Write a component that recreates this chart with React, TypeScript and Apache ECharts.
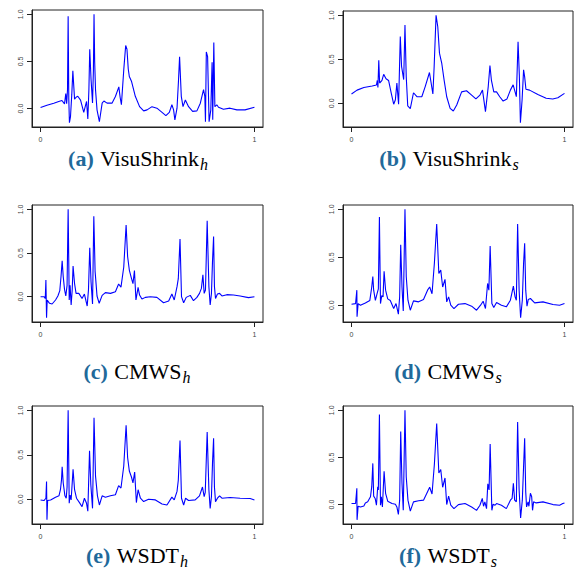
import React, { useEffect, useRef } from "react";
import * as echarts from "echarts";

// (a) VisuShrink_h
const visuShrinkH: [number, number][] = [
  [0, 0.011], [0.03, 0.035], [0.062, 0.057], [0.085, 0.075], [0.1, 0.085], [0.112, 0.05], [0.118, 0.16], [0.122, 0.05],
  [0.126, 0.2], [0.129, 0.98], [0.132, 0.1], [0.135, -0.15], [0.14, -0.085], [0.146, 0.15], [0.151, 0.4], [0.159, 0.1],
  [0.166, 0.12], [0.174, 0.13], [0.187, 0.09], [0.202, -0.04], [0.215, 0.075], [0.221, -0.11], [0.226, 0.2], [0.23, 0.63],
  [0.236, 0.31], [0.243, 0.06], [0.247, 0.4], [0.25, 1.0], [0.253, 0.5], [0.257, 0.2], [0.264, -0.014], [0.275, -0.14],
  [0.288, 0.057], [0.296, 0.08], [0.311, 0.057], [0.334, 0.057], [0.35, 0.128], [0.366, 0.23], [0.372, 0.12], [0.378, 0.04],
  [0.389, 0.41], [0.398, 0.67], [0.404, 0.63], [0.41, 0.42], [0.415, 0.34], [0.425, 0.29], [0.443, 0.13], [0.463, 0.02],
  [0.482, -0.025], [0.498, -0.014], [0.521, 0.02], [0.544, 0.004], [0.568, -0.04], [0.586, -0.075], [0.602, -0.04],
  [0.614, 0.04], [0.622, -0.014], [0.628, -0.12], [0.638, 0.004], [0.645, 0.3], [0.65, 0.55], [0.658, 0.13], [0.666, 0.02],
  [0.677, 0.09], [0.692, 0.02], [0.711, -0.03], [0.731, -0.025], [0.747, 0.057], [0.762, 0.2], [0.768, 0.13], [0.771, -0.14],
  [0.775, 0.6], [0.781, 0.55], [0.788, -0.14], [0.796, -0.014], [0.802, 0.49], [0.805, -0.12], [0.81, 0.7], [0.815, 0.02],
  [0.824, 0.04], [0.832, 0.014], [0.855, -0.007], [0.886, 0.004], [0.918, -0.014], [0.956, -0.014], [1, 0.014]
];

// (b) VisuShrink_s
const visuShrinkS: [number, number][] = [
  [0, 0.106], [0.026, 0.15], [0.058, 0.18], [0.097, 0.196], [0.117, 0.208], [0.121, 0.26], [0.124, 0.18], [0.128, 0.49],
  [0.132, 0.23], [0.143, 0.26], [0.151, 0.33], [0.162, 0.28], [0.174, 0.26], [0.187, 0.11], [0.198, -0.01], [0.206, 0.04],
  [0.213, 0.23], [0.221, -0.01], [0.229, 0.76], [0.235, 0.42], [0.245, 0.27], [0.251, 0.89], [0.257, 0.3], [0.264, -0.03],
  [0.276, -0.06], [0.291, 0.12], [0.307, 0.075], [0.33, 0.075], [0.346, 0.19], [0.366, 0.35], [0.382, 0.106], [0.388, 0.415],
  [0.397, 1.0], [0.405, 0.87], [0.413, 0.57], [0.424, 0.45], [0.435, 0.26], [0.447, 0.075], [0.463, -0.057], [0.478, -0.087],
  [0.494, -0.019], [0.517, 0.13], [0.54, 0.143], [0.564, 0.094], [0.584, 0.05], [0.603, 0.094], [0.615, 0.15], [0.629, -0.094],
  [0.642, 0.19], [0.65, 0.43], [0.657, 0.26], [0.668, 0.13], [0.681, 0.13], [0.696, 0.075], [0.712, 0.026], [0.73, 0.05],
  [0.746, 0.15], [0.759, 0.21], [0.768, 0.13], [0.774, 0.075], [0.782, 0.7], [0.788, 0.32], [0.793, -0.22], [0.801, 0.04],
  [0.808, 0.38], [0.813, 0.3], [0.819, 0.16], [0.836, 0.15], [0.875, 0.1], [0.914, 0.057], [0.945, 0.05], [0.969, 0.064],
  [1, 0.113]
];

// (c) CMWS_h
const cmwsH: [number, number][] = [
  [0, 0], [0.016, 0], [0.022, -0.02], [0.025, 0.19], [0.028, -0.24], [0.031, -0.04], [0.042, -0.076], [0.054, -0.084],
  [0.07, -0.038], [0.081, 0.008], [0.09, 0.07], [0.096, 0.24], [0.101, 0.41], [0.106, 0.23], [0.112, 0.084], [0.118, 0.008],
  [0.124, 0.13], [0.129, 1.0], [0.134, -0.038], [0.138, 0.13], [0.143, -0.095], [0.148, 0.076], [0.152, 0.35], [0.159, 0.15],
  [0.166, 0.038], [0.179, 0.038], [0.194, -0.02], [0.205, 0.03], [0.218, -0.107], [0.224, 0.076], [0.23, 0.56], [0.236, 0.17],
  [0.243, -0.084], [0.249, 0.92], [0.255, 0.29], [0.264, 0.008], [0.274, -0.076], [0.288, 0.015], [0.303, 0.046], [0.327, 0.038],
  [0.35, 0.057], [0.365, 0.145], [0.376, 0.11], [0.389, 0.34], [0.4, 0.82], [0.407, 0.46], [0.415, 0.305], [0.425, 0.21],
  [0.432, 0.15], [0.439, 0.3], [0.446, -0.038], [0.456, 0.107], [0.463, 0.019], [0.474, -0.027], [0.49, -0.008], [0.513, 0],
  [0.544, -0.008], [0.575, -0.069], [0.599, -0.05], [0.614, 0.03], [0.625, -0.038], [0.638, 0.115], [0.644, 0.206],
  [0.652, 0.66], [0.659, 0], [0.669, -0.069], [0.681, -0.008], [0.7, 0.015], [0.715, -0.046], [0.731, -0.008], [0.743, 0.038],
  [0.752, 0.095], [0.759, 0.25], [0.765, 0.038], [0.771, 0.076], [0.779, 0.87], [0.787, 0.115], [0.793, -0.095], [0.799, 0.038],
  [0.804, 0.41], [0.809, 0.69], [0.813, 0.115], [0.818, -0.02], [0.827, 0.03], [0.837, 0.038], [0.848, 0.008], [0.871, 0.023],
  [0.902, 0.019], [0.933, 0.008], [0.972, -0.011], [1, 0]
];

// (d) CMWS_s
const cmwsS: [number, number][] = [
  [0, 0.01], [0.019, 0.017], [0.025, 0.157], [0.026, -0.12], [0.031, 0.017], [0.042, 0], [0.065, 0.024], [0.086, 0.05],
  [0.095, 0.19], [0.1, 0.3], [0.104, 0.157], [0.112, 0.05], [0.12, 0.12], [0.126, 0.17], [0.131, 0.92], [0.136, 0.017],
  [0.142, 0.1], [0.148, 0.087], [0.153, 0.355], [0.16, 0.157], [0.17, 0.066], [0.182, 0.05], [0.198, -0.035], [0.209, 0.017],
  [0.22, -0.094], [0.226, 0.087], [0.231, 0.63], [0.237, 0.19], [0.243, -0.06], [0.251, 1.0], [0.257, 0.3], [0.265, 0.052],
  [0.276, -0.052], [0.291, 0.045], [0.315, 0.035], [0.338, 0.06], [0.357, 0.157], [0.367, 0.19], [0.378, 0.12], [0.389, 0.435],
  [0.4, 0.847], [0.41, 0.33], [0.419, 0.366], [0.428, 0.19], [0.439, 0.27], [0.447, 0.035], [0.456, 0.087], [0.466, 0],
  [0.481, -0.035], [0.502, 0.01], [0.533, 0.017], [0.564, -0.01], [0.587, -0.052], [0.606, 0], [0.618, 0.042], [0.629, -0.035],
  [0.639, 0.227], [0.645, 0.157], [0.651, 0.617], [0.659, 0.017], [0.668, -0.024], [0.681, 0.028], [0.704, 0], [0.727, -0.017],
  [0.746, 0.052], [0.76, 0.2], [0.768, 0.087], [0.774, 0.052], [0.78, 0.847], [0.787, 0.157], [0.794, -0.13], [0.802, 0.052],
  [0.808, 0.44], [0.813, 0.645], [0.818, 0.157], [0.824, -0.01], [0.83, 0.06], [0.84, 0.07], [0.86, 0.024], [0.899, 0.035],
  [0.946, 0.007], [0.977, 0], [1, 0.017]
];

// (e) WSDT_h
const wsdtH: [number, number][] = [
  [0, -0.008], [0.016, -0.015], [0.025, 0.011], [0.028, 0.2], [0.03, -0.23], [0.033, -0.015], [0.047, -0.008], [0.07, 0.023],
  [0.086, 0.038], [0.093, 0.107], [0.098, 0.22], [0.101, 0.366], [0.106, 0.183], [0.114, 0.038], [0.12, 0.011], [0.124, 0.137],
  [0.129, 1.0], [0.134, -0.046], [0.138, 0.046], [0.143, -0.008], [0.152, 0.336], [0.159, 0.107], [0.168, 0.011], [0.182, -0.038],
  [0.194, -0.084], [0.205, 0.011], [0.215, -0.046], [0.221, -0.134], [0.229, 0.546], [0.235, 0.164], [0.243, -0.103], [0.25, 0.916],
  [0.257, 0.26], [0.266, 0.038], [0.275, -0.065], [0.288, 0.038], [0.303, 0.023], [0.327, 0.038], [0.35, 0.05], [0.365, 0.153],
  [0.376, 0.126], [0.389, 0.374], [0.4, 0.832], [0.407, 0.47], [0.415, 0.317], [0.425, 0.25], [0.432, 0.183], [0.44, 0.305],
  [0.448, -0.038], [0.456, 0.107], [0.467, 0.011], [0.482, -0.027], [0.505, 0], [0.537, -0.008], [0.568, -0.053], [0.591, -0.065],
  [0.614, 0.023], [0.625, -0.008], [0.638, 0.088], [0.644, 0.214], [0.652, 0.66], [0.659, 0.011], [0.669, -0.065], [0.678, 0.011],
  [0.692, -0.015], [0.723, -0.008], [0.743, 0.038], [0.757, 0.137], [0.765, 0.03], [0.77, 0.076], [0.779, 0.756], [0.787, 0.107],
  [0.793, -0.103], [0.799, 0.03], [0.804, 0.412], [0.809, 0.687], [0.813, 0.137], [0.818, -0.027], [0.827, 0.011], [0.837, 0.038],
  [0.848, 0.011], [0.886, 0.019], [0.933, 0.011], [0.98, 0.008], [1, -0.008]
];

// (f) WSDT_s
const wsdtS: [number, number][] = [
  [0, 0.011], [0.019, 0.011], [0.025, 0.173], [0.026, -0.162], [0.031, -0.018], [0.042, -0.025], [0.058, -0.014], [0.065, 0.018],
  [0.076, 0.029], [0.089, 0.083], [0.095, 0.19], [0.1, 0.437], [0.104, 0.09], [0.111, 0.065], [0.117, -0.007], [0.123, 0.19],
  [0.126, 0.155], [0.131, 0.957], [0.136, -0.007], [0.14, 0.083], [0.145, -0.025], [0.153, 0.354], [0.16, 0.12], [0.17, 0.036],
  [0.19, 0.011], [0.206, 0.004], [0.213, -0.025], [0.22, -0.105], [0.226, 0.047], [0.231, 0.776], [0.237, 0.227], [0.243, -0.061],
  [0.251, 1.0], [0.257, 0.292], [0.265, 0.047], [0.276, -0.069], [0.291, 0.029], [0.315, 0.04], [0.338, 0.047], [0.357, 0.137],
  [0.367, 0.184], [0.378, 0.112], [0.389, 0.426], [0.4, 0.859], [0.41, 0.336], [0.419, 0.372], [0.428, 0.184], [0.439, 0.282],
  [0.447, 0], [0.456, 0.09], [0.466, -0.007], [0.481, -0.043], [0.502, 0], [0.533, 0.011], [0.564, -0.025], [0.587, -0.061],
  [0.603, -0.007], [0.614, 0.065], [0.62, -0.018], [0.626, 0.029], [0.634, -0.043], [0.64, 0.22], [0.646, 0.155], [0.651, 0.643],
  [0.659, -0.061], [0.665, 0.004], [0.674, -0.007], [0.681, 0.011], [0.704, -0.007], [0.727, -0.043], [0.746, 0.047],
  [0.754, 0.065], [0.76, 0.227], [0.766, 0.047], [0.774, 0.029], [0.78, 0.877], [0.787, 0.155], [0.794, -0.141], [0.802, 0.047],
  [0.808, 0.408], [0.813, 0.704], [0.818, 0.137], [0.822, -0.025], [0.829, 0.029], [0.833, -0.018], [0.84, 0.12], [0.846, 0.083],
  [0.85, -0.061], [0.855, 0.029], [0.867, 0.018], [0.899, 0.029], [0.946, 0], [0.977, -0.007], [0.992, 0.011], [1, 0.018]
];

const panelSeries = [visuShrinkH, visuShrinkS, cmwsH, cmwsS, wsdtH, wsdtS];
const panelLetters = ["a", "b", "c", "d", "e", "f"];
const methodNames = ["VisuShrink", "VisuShrink", "CMWS", "CMWS", "WSDT", "WSDT"];
const subscripts = ["h", "s", "h", "s", "h", "s"];
const xTickValues = [0, 1];
const yTickValues = [0, 0.5, 1];
const xLimits: [number, number] = [-0.04, 1.04];
const yLimits: [number, number][] = [
  [-0.196, 1.046], [-0.269, 1.049], [-0.29, 1.05], [-0.175, 1.045], [-0.279, 1.049], [-0.206, 1.046]
];

const gridBoxes = [
  { left: 32, top: 10, width: 231, height: 117 },
  { left: 343, top: 11, width: 230, height: 116 },
  { left: 32, top: 205, width: 231, height: 117 },
  { left: 343, top: 205, width: 230, height: 117 },
  { left: 32, top: 406, width: 231, height: 118 },
  { left: 343, top: 406, width: 230, height: 118 }
];
const captionCenters = [[138, 160], [449, 160], [137, 373], [448, 373], [137, 557], [448, 557]];

export default function App() {
  const ref = useRef<HTMLDivElement>(null);
  useEffect(() => {
    if (!ref.current) return;
    const chart = echarts.init(ref.current, undefined, { renderer: "svg" });
    const axisColor = "#222";
    const labelStyle = { fontSize: 7, color: "#444", fontFamily: "Liberation Sans, Arial, sans-serif" };
    const option: any = {
      animation: false,
      backgroundColor: "#fff",
      grid: gridBoxes.map((g) => ({
        ...g, show: true, borderColor: axisColor, borderWidth: 1, backgroundColor: "transparent", containLabel: false
      })),
      xAxis: gridBoxes.map((_, i) => ({
        gridIndex: i, type: "value", min: xLimits[0], max: xLimits[1], position: "bottom",
        axisLine: { show: true, onZero: false, lineStyle: { color: axisColor, width: 1 } },
        axisTick: { show: true, length: 5, customValues: xTickValues, lineStyle: { color: axisColor } },
        axisLabel: { show: true, customValues: xTickValues, margin: 9, formatter: (v: number) => String(v), ...labelStyle },
        splitLine: { show: false }
      })),
      yAxis: gridBoxes.map((_, i) => ({
        gridIndex: i, type: "value", min: yLimits[i][0], max: yLimits[i][1], position: "left",
        axisLine: { show: true, onZero: false, lineStyle: { color: axisColor, width: 1 } },
        axisTick: { show: true, length: 5, customValues: yTickValues, lineStyle: { color: axisColor } },
        axisLabel: { show: true, customValues: yTickValues, rotate: 90, margin: 8, formatter: (v: number) => v.toFixed(1), ...labelStyle },
        splitLine: { show: false }
      })),
      series: panelSeries.map((data, i) => ({
        type: "line", xAxisIndex: i, yAxisIndex: i, data, showSymbol: false, symbol: "none",
        lineStyle: { color: "#0000ff", width: 1.1 }, itemStyle: { color: "#0000ff" }, silent: true
      })),
      graphic: captionCenters.map((c, i) => ({
        type: "text", x: c[0], y: c[1],
        style: {
          text: `{b|(${panelLetters[i]})} {n|${methodNames[i]}}{s|${subscripts[i]}}`,
          align: "center", textAlign: "center", verticalAlign: "middle", textVerticalAlign: "middle",
          rich: {
            b: { fontSize: 22, fontWeight: "bold", fill: "#21699a", color: "#21699a", fontFamily: "Liberation Serif", padding: [0, 3, 3, 0], verticalAlign: "bottom" },
            n: { fontSize: 22, fill: "#000", color: "#000", fontFamily: "Liberation Serif", padding: [0, 0, 3, 0], verticalAlign: "bottom" },
            s: { fontSize: 16, fontStyle: "italic", fill: "#000", color: "#000", fontFamily: "Liberation Serif", padding: [0, 0, 0, 1], verticalAlign: "bottom" }
          }
        }
      }))
    };
    chart.setOption(option);
    return () => chart.dispose();
  }, []);
  return <div ref={ref} style={{ position: "fixed", left: 0, top: 0, width: 574, height: 570 }} />;
}
